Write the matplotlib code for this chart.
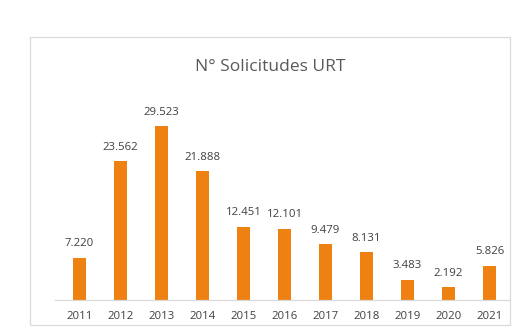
import matplotlib
matplotlib.use("Agg")
import matplotlib.pyplot as plt
from matplotlib.patches import Rectangle

years = ["2011", "2012", "2013", "2014", "2015", "2016", "2017", "2018", "2019", "2020", "2021"]
solicitudes = [7220, 23562, 29523, 21888, 12451, 12101, 9479, 8131, 3483, 2192, 5826]
labels = ["7.220", "23.562", "29.523", "21.888", "12.451", "12.101", "9.479", "8.131", "3.483", "2.192", "5.826"]

plt.rcParams["font.family"] = ["Open Sans", "DejaVu Sans"]

W, H = 521, 330
fig = plt.figure(figsize=(W / 100, H / 100), dpi=100)
fig.patch.set_facecolor("white")

# chart frame
fig.patches.append(Rectangle((30 / W, (H - 325) / H), 480 / W, 288 / H,
                             transform=fig.transFigure, fill=False,
                             edgecolor="#D9D9D9", linewidth=0.9))

ax = fig.add_axes([55 / W, 30 / H, 455 / W, 206 / H])
x = range(len(years))
ax.bar(x, solicitudes, width=0.32, color="#EF8012")
ax.set_xlim(-0.6, 10.5)
ax.set_ylim(0, 35000)
ax.set_xticks(list(x))
ax.set_xticklabels(years, fontsize=8.2, color="#404040")
ax.tick_params(axis="x", length=0, pad=8)
ax.set_yticks([])
for s in ["top", "right", "left"]:
    ax.spines[s].set_visible(False)
ax.spines["bottom"].set_color("#D9D9D9")
ax.spines["bottom"].set_linewidth(0.9)

for xi, v, lab in zip(x, solicitudes, labels):
    ax.annotate(lab, (xi, v), xytext=(0, 6), textcoords="offset points",
                ha="center", va="bottom", fontsize=8.2, color="#404040")

fig.text(270 / W, 1 - 67 / H, "N° Solicitudes URT", ha="center", va="center",
         fontsize=12.5, color="#595959")

fig.savefig("out.png", dpi=100)
